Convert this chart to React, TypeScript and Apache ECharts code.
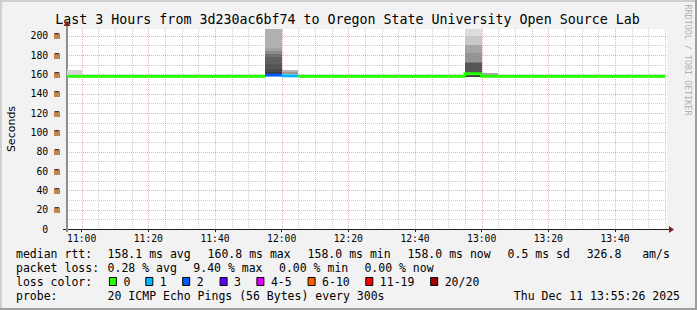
import React, { useEffect, useRef } from "react";
import * as echarts from "echarts";

// ---- data (minutes after 10:00) ----
const stepEndMinutes = [
  60, 65, 70, 75, 80, 85, 90, 95, 100, 105, 110, 115,
  120, 125, 130, 135, 140, 145, 150, 155, 160, 165, 170, 175,
  180, 185, 190, 195, 200, 205, 210, 215, 220, 225, 230, 235,
];
const medianRtt = [
  158.0, 158.0, 158.0, 158.0, 158.0, 158.0, 158.0, 158.0, 158.0, 158.0, 158.0, 158.0,
  159.3, 158.5, 158.0, 158.0, 158.0, 158.0, 158.0, 158.0, 158.0, 158.0, 158.0, 158.0,
  160.8, 158.0, 158.0, 158.0, 158.0, 158.0, 158.0, 158.0, 158.0, 158.0, 158.0, 158.0,
];
const lostPings = [
  0, 0, 0, 0, 0, 0, 0, 0, 0, 0, 0, 0,
  2, 1, 0, 0, 0, 0, 0, 0, 0, 0, 0, 0,
  0, 0, 0, 0, 0, 0, 0, 0, 0, 0, 0, 0,
];
// smoke (ping spread) per step that shows it
const smokeStepEnd = [60, 120, 125, 180, 185];
const smokeLow = [
  [158.0],
  [158.0, 162.4, 166.0, 171.0, 178.0, 181.0, 183.8, 187.0],
  [160.0, 162.4],
  [157.5, 161.7, 172.0, 173.0, 181.8, 190.3, 199.7],
  [159.5],
];
const smokeHigh = [
  [164.5],
  [162.4, 166.0, 171.0, 178.0, 181.0, 183.8, 187.0, 215.0],
  [162.4, 164.8],
  [161.7, 172.0, 173.0, 181.8, 190.3, 199.7, 215.0],
  [161.4],
];
const smokeGray = [
  [212],
  [58, 74, 85, 96, 114, 138, 162, 176],
  [154, 181],
  [58, 85, 120, 149, 166, 200, 220],
  [168],
];
const xTickMinutes = [60, 80, 100, 120, 140, 160, 180, 200, 220];
const yTickValues = [20, 40, 60, 80, 100, 120, 140, 160, 180, 200];
const lossLabels = ["0", "1", "2", "3", "4-5", "6-10", "11-19", "20/20"];
const lossColors = ["#26ff00", "#00b8ff", "#0059ff", "#5e00ff", "#dd00ff", "#ff5e00", "#ff0000", "#a10000"];

const titleText = "Last 3 Hours from 3d230ac6bf74 to Oregon State University Open Source Lab";
const rttRow = ["median rtt:", "158.1 ms avg", "160.8 ms max", "158.0 ms min", "158.0 ms now", "0.5 ms sd", "326.8", "am/s"];
const lossRow = ["packet loss:", "0.28 % avg", "9.40 % max", "0.00 % min", "0.00 % now"];
const probeRow = ["probe:", "20 ICMP Echo Pings (56 Bytes) every 300s"];
const dateText = "Thu Dec 11 13:55:26 2025";

// ---- layout ----
const W = 697;
const H = 310;
const GL = 67;
const GT = 29;
const GW = 600;
const GH = 200;
const X_MIN = 55.6;
const X_MAX = 235.6;
const Y_MAX = 207;
const MONO = '"DejaVu Sans Mono", monospace';
const LEG_FS = 11.5;
const AXIS_FS = 9.8;
const rttX = [16, 107.6, 207.6, 307.6, 407.6, 507.6, 586.7, 642.2];
const lossX = [16, 107.6, 193.3, 279, 364.4];
const probeX = [16, 107.6];
const boxX = [108.9, 145.3, 182.2, 219.6, 256.4, 307.6, 365.3, 430.2];
const rowY = [254, 268, 282, 296];

function lossClass(n: number) {
  if (n <= 3) return n;
  if (n <= 5) return 4;
  if (n <= 10) return 5;
  if (n <= 19) return 6;
  return 7;
}

function fmtTime(v: number) {
  const h = 10 + Math.floor(v / 60);
  const m = Math.round(v % 60);
  return `${h}:${String(m).padStart(2, "0")}`;
}

function buildOption() {
  // grid lines
  const gridData: number[][] = [];
  for (let m = 60; m <= 235; m += 5) gridData.push([0, m, m % 20 === 0 ? 1 : 0]);
  for (let v = 10; v <= 200; v += 10) gridData.push([1, v, v % 20 === 0 ? 1 : 0]);

  // median segments
  const medianData: number[][] = stepEndMinutes.map((t, i) => {
    const cls = lossClass(lostPings[i]);
    const prevSame = i > 0 && lossClass(lostPings[i - 1]) === cls;
    return [t - 5, t, medianRtt[i], prevSame ? medianRtt[i - 1] : medianRtt[i], cls];
  });

  // smoke rects
  const smokeData: number[][] = [];
  smokeStepEnd.forEach((t, i) => {
    smokeLow[i].forEach((lo, j) => {
      smokeData.push([t - 5, t, lo, smokeHigh[i][j], smokeGray[i][j]]);
    });
  });

  const graphics: any[] = [];
  // frame shading
  graphics.push({ type: "rect", shape: { x: 0, y: 0, width: W, height: 2 }, style: { fill: "#cfcfcf" }, silent: true });
  graphics.push({ type: "rect", shape: { x: 0, y: 0, width: 2, height: H }, style: { fill: "#cfcfcf" }, silent: true });
  graphics.push({ type: "rect", shape: { x: 0, y: H - 2, width: W, height: 2 }, style: { fill: "#9e9e9e" }, silent: true });
  graphics.push({ type: "rect", shape: { x: W - 2, y: 0, width: 2, height: H }, style: { fill: "#9e9e9e" }, silent: true });

  graphics.push({
    type: "text", x: 347.5, y: 19.5,
    style: { text: titleText, fontFamily: MONO, fontSize: 13.3, fill: "#000", align: "center", verticalAlign: "middle" },
  });
  graphics.push({
    type: "text", x: 11, y: 129, rotation: Math.PI / 2,
    style: { text: "Seconds", fontFamily: '"DejaVu Sans", sans-serif', fontSize: 11, fill: "#000", align: "center", verticalAlign: "middle" },
  });
  graphics.push({
    type: "text", x: 688, y: 60, rotation: -Math.PI / 2,
    style: { text: "RRDTOOL / TOBI OETIKER", fontFamily: MONO, fontSize: 8.4, fill: "#b0b0b0", align: "center", verticalAlign: "middle" },
  });

  // axis extensions and arrows
  graphics.push({ type: "line", z: 10, shape: { x1: GL - 4, y1: GT + GH + 0.5, x2: GL, y2: GT + GH + 0.5 }, style: { stroke: "#1f1f1f", lineWidth: 1 } });
  graphics.push({ type: "line", z: 10, shape: { x1: GL + GW, y1: GT + GH + 0.5, x2: GL + GW + 3, y2: GT + GH + 0.5 }, style: { stroke: "#1f1f1f", lineWidth: 1 } });
  graphics.push({ type: "line", z: 10, shape: { x1: GL, y1: GT - 7, x2: GL, y2: GT }, style: { stroke: "#8f8f8f", lineWidth: 2 } });
  graphics.push({ type: "line", z: 10, shape: { x1: GL, y1: GT + GH, x2: GL, y2: GT + GH + 3 }, style: { stroke: "#8f8f8f", lineWidth: 2 } });
  graphics.push({
    type: "polygon", z: 11,
    shape: { points: [[GL + GW + 2, GT + GH - 3], [GL + GW + 7, GT + GH + 0.5], [GL + GW + 2, GT + GH + 4]] },
    style: { fill: "#801f1f" },
  });
  graphics.push({
    type: "polygon", z: 11,
    shape: { points: [[GL - 3.5, GT - 3], [GL, GT - 8.5], [GL + 3.5, GT - 3]] },
    style: { fill: "#801f1f" },
  });

  const legText = (x: number, y: number, text: string, align = "left") => ({
    type: "text", x, y,
    style: { text, fontFamily: MONO, fontSize: LEG_FS, fill: "#000", align, verticalAlign: "middle" },
  });
  rttRow.forEach((s, i) => graphics.push(legText(rttX[i], rowY[0], s)));
  lossRow.forEach((s, i) => graphics.push(legText(lossX[i], rowY[1], s)));
  graphics.push(legText(16, rowY[2], "loss color:"));
  lossLabels.forEach((s, i) => {
    graphics.push({
      type: "rect",
      shape: { x: boxX[i] + 0.5, y: rowY[2] - 4.5, width: 7, height: 8 },
      style: { fill: lossColors[i], stroke: "#000", lineWidth: 1 },
    });
    graphics.push(legText(boxX[i] + 14.5, rowY[2], s));
  });
  probeRow.forEach((s, i) => graphics.push(legText(probeX[i], rowY[3], s)));
  graphics.push(legText(680, rowY[3], dateText, "right"));

  return {
    animation: false,
    backgroundColor: "#f2f2f2",
    grid: {
      left: GL, top: GT, width: GW, height: GH,
      show: true, backgroundColor: "#ffffff", borderWidth: 0,
      containLabel: false, outerBoundsMode: "none",
    },
    xAxis: {
      type: "value", min: X_MIN, max: X_MAX,
      splitLine: { show: false },
      axisLine: { show: true, onZero: false, lineStyle: { color: "#1f1f1f", width: 1 } },
      axisTick: { show: true, customValues: xTickMinutes, length: 3, lineStyle: { color: "#1f1f1f" } },
      axisLabel: {
        customValues: xTickMinutes, margin: 4, color: "#000",
        fontFamily: MONO, fontSize: 9.7, formatter: (v: number) => fmtTime(v),
      },
    },
    yAxis: {
      type: "value", min: 0, max: Y_MAX,
      splitLine: { show: false },
      axisLine: { show: true, lineStyle: { color: "#8f8f8f", width: 2 } },
      axisTick: { show: false },
      axisLabel: {
        customValues: yTickValues, margin: 7, color: "#000",
        fontFamily: MONO, fontSize: AXIS_FS,
        formatter: (v: number) => `${v} m`,
      },
    },
    graphic: { elements: graphics },
    series: [
      {
        type: "custom", name: "grid", z: 1, silent: true, clip: true,
        data: gridData,
        renderItem: (params: any, api: any) => {
          const vertical = api.value(0) === 0;
          const v = api.value(1);
          const major = api.value(2) === 1;
          const cs = params.coordSys;
          let shape;
          if (vertical) {
            const p = api.coord([v, 0]);
            const x = Math.round(p[0]) + 0.5;
            shape = { x1: x, y1: cs.y, x2: x, y2: cs.y + cs.height };
          } else {
            const p = api.coord([X_MIN, v]);
            const y = Math.round(p[1]) + 0.5;
            shape = { x1: cs.x, y1: y, x2: cs.x + cs.width, y2: y };
          }
          return {
            type: "line", shape,
            style: { stroke: major ? "rgba(222,79,79,0.45)" : "rgba(143,143,143,0.45)", lineWidth: 1, lineDash: [1, 1] },
          };
        },
      },
      {
        type: "custom", name: "smoke", z: 2, silent: true, clip: true,
        data: smokeData,
        renderItem: (params: any, api: any) => {
          const p0 = api.coord([api.value(0), api.value(3)]);
          const p1 = api.coord([api.value(1), api.value(2)]);
          const g = api.value(4);
          const x0 = Math.round(p0[0]);
          const x1 = Math.round(p1[0]);
          const y0 = Math.round(p0[1]);
          const y1 = Math.round(p1[1]);
          return {
            type: "rect",
            shape: { x: x0, y: y0, width: x1 - x0, height: y1 - y0 },
            style: { fill: `rgb(${g},${g},${g})` },
          };
        },
      },
      {
        type: "custom", name: "median", z: 3, silent: true, clip: true,
        data: medianData,
        renderItem: (params: any, api: any) => {
          const t0 = api.value(0);
          const t1 = api.value(1);
          const m = api.value(2);
          const prev = api.value(3);
          const cls = api.value(4);
          const a = api.coord([t0, prev]);
          const b = api.coord([t0, m]);
          const c = api.coord([t1, m]);
          return {
            type: "polyline",
            shape: { points: [a, b, c] },
            style: { stroke: lossColors[cls], lineWidth: 3, fill: null },
          };
        },
      },
    ],
  };
}

export default function App() {
  const ref = useRef<HTMLDivElement>(null);
  useEffect(() => {
    if (!ref.current) return;
    const chart = echarts.init(ref.current, null, { renderer: "svg" });
    chart.setOption(buildOption() as any);
    // the "0" tick label sits where "0 m" would put its digit (unit omitted)
    const yZero = chart.convertToPixel({ yAxisIndex: 0 }, 0) as number;
    chart.setOption({
      graphic: {
        elements: [
          {
            id: "yZeroLabel", type: "text", x: GL - 7 - 2 * AXIS_FS * 0.602, y: yZero,
            style: { text: "0", fontFamily: MONO, fontSize: AXIS_FS, fill: "#000", align: "right", verticalAlign: "middle" },
          },
        ],
      },
    } as any);
    return () => chart.dispose();
  }, []);
  return (
    <div
      ref={ref}
      style={{ position: "absolute", left: 0, top: 0, width: W, height: H }}
    />
  );
}
